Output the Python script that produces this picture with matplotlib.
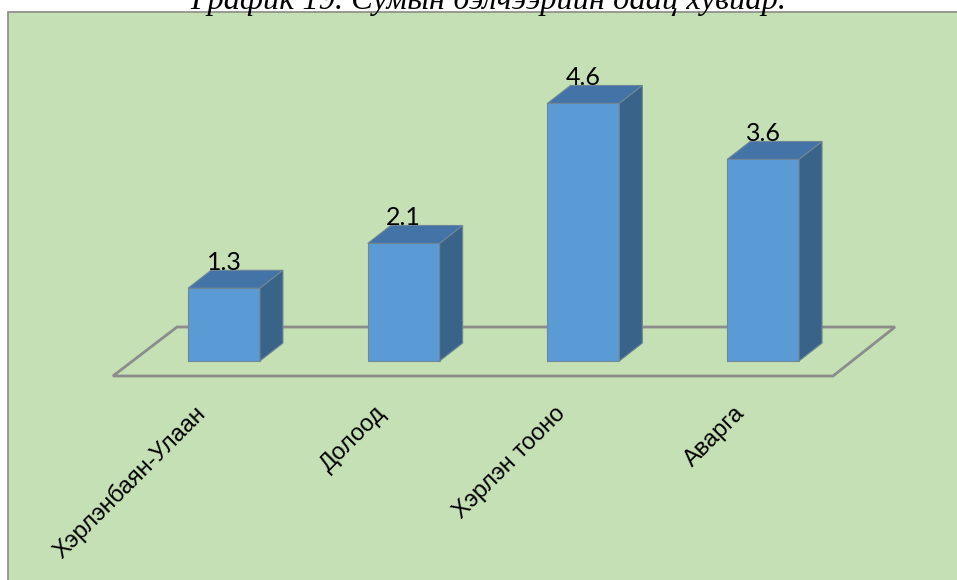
import numpy as np
import matplotlib
matplotlib.use('Agg')
import matplotlib.pyplot as plt
from matplotlib.patches import Polygon, Rectangle

# data
categories = ['Хэрлэнбаян-Улаан', 'Долоод', 'Хэрлэн тооно', 'Аварга']
values = [1.3, 2.1, 4.6, 3.6]
title = 'График 19. Сумын бэлчээрийн даац хувиар.'

front_col = '#5b9bd5'
top_col = '#4473a8'
side_col = '#3a6389'
edge_col = '#6f8796'
floor_col = '#8c8c8c'
bg_col = '#c5e0b4'

fig = plt.figure(figsize=(9.57, 5.8), dpi=100)
fig.patch.set_facecolor('white')

# green chart area with grey border
bg = Rectangle((8 / 957, -0.05), 1.05, 1.05 - 11.5 / 580, transform=fig.transFigure,
               facecolor=bg_col, edgecolor='#8a8a8a', linewidth=1.2, zorder=-5)
fig.patches.append(bg)

# title is cut at the top edge, as in the source image
fig.text(488 / 957, 1 - 9 / 580, title, ha='center', va='baseline',
         fontsize=23.3, fontstyle='italic', family='Liberation Serif')

ax = fig.add_axes([0, 0, 1, 1])
ax.set_zorder(2)
ax.set_facecolor('none')
ax.set_xlim(-1.2465, 4.0790)
ax.set_ylim(-3.9107, 6.4464)
ax.axis('off')

x = np.arange(len(values))
w = 0.4
dx, dy = 0.128, 0.32

# floor (grey outline only)
floor = Polygon([(-0.618, -0.268), (3.389, -0.268), (3.734, 0.607), (-0.2615, 0.607)],
                closed=True, fill=False, edgecolor=floor_col, linewidth=2.0, zorder=1)
ax.add_patch(floor)

ax.bar(x, values, width=w, color=front_col, edgecolor=edge_col, linewidth=0.8, zorder=3)
for xi, v in zip(x, values):
    l, r = xi - w / 2, xi + w / 2
    top = Polygon([(l, v), (r, v), (r + dx, v + dy), (l + dx, v + dy)],
                  closed=True, facecolor=top_col, edgecolor=edge_col, linewidth=0.8, zorder=3)
    side = Polygon([(r, 0), (r + dx, dy), (r + dx, v + dy), (r, v)],
                   closed=True, facecolor=side_col, edgecolor=edge_col, linewidth=0.8, zorder=3)
    ax.add_patch(top)
    ax.add_patch(side)
    ax.text(xi, v + dy, f'{v:.1f}', ha='center', va='baseline', fontsize=18, family='Lato')

for xi, name in zip(x, categories):
    ax.text(xi - 0.12, -0.88, name, rotation=45, rotation_mode='anchor',
            ha='right', va='center', fontsize=17, family='Liberation Sans')

fig.savefig('out.png', dpi=100)
